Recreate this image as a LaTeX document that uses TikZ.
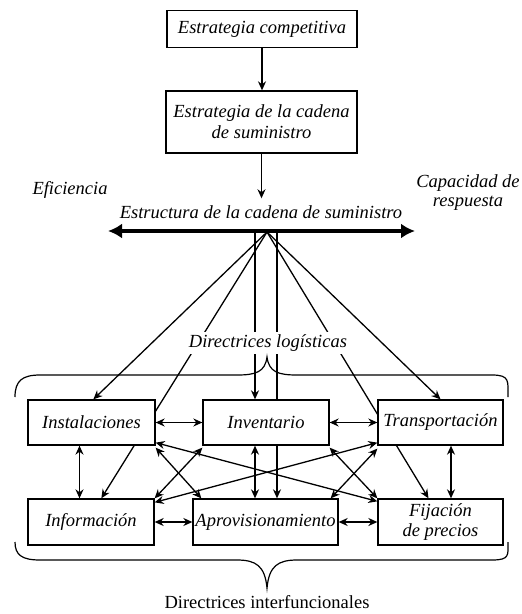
\documentclass[tikz,border=0pt]{standalone}
\usepackage{fontspec}
\setmainfont{Liberation Serif}
\usetikzlibrary{arrows.meta,calc}
\pgfdeclarelayer{bg}
\pgfsetlayers{bg,main}
\newcommand{\bigfs}{\fontsize{18.5}{21}\selectfont}
\begin{document}
\begin{tikzpicture}[x=1pt,y=-1pt,
  box/.style={draw,line width=1.3pt,fill=white,inner sep=0pt,align=center,font=\bigfs\itshape},
  lbl/.style={font=\bigfs\itshape,align=center,inner sep=1pt},
  arr/.style={line width=1.3pt,-{Stealth[length=9pt,width=8pt]}},
  darr/.style={line width=1.3pt,{Stealth[length=9pt,width=8pt]}-{Stealth[length=9pt,width=8pt]}},
  fan/.style={line width=1.3pt}
]
\useasboundingbox (0,0) rectangle (522,614);

% top boxes
\node[box,minimum width=190pt,minimum height=37pt] (comp) at (262,29) {Estrategia competitiva};
\node[box,minimum width=191pt,minimum height=62pt] (sc) at (261.5,122) {Estrategia de la cadena\\de suministro};
\node[lbl] (estr) at (261,212) {Estructura de la cadena de suministro};
\node[lbl] (efi) at (70,190) {Eficiencia};
\node[lbl,font=\fontsize{18.5}{19}\selectfont\itshape] (cap) at (468,193) {Capacidad de\\respuesta};

\coordinate (bL) at (108,231);
\coordinate (bR) at (415,231);
\coordinate (apex) at (267,232);
\coordinate (vL) at (255,231);
\coordinate (vR) at (277,231);

% function boxes
\node[box,minimum width=127pt,minimum height=45pt] (Inst) at (91.5,422.5) {Instalaciones};
\node[box,minimum width=126pt,minimum height=45pt] (Inv) at (266,422.5) {Inventario};
\node[box,minimum width=125pt,minimum height=45pt] (Trans) at (440.5,422.5) {Transportación};
\node[box,minimum width=126pt,minimum height=46pt] (Inf) at (91,522) {Información};
\node[box,minimum width=145pt,minimum height=46pt] (Aprov) at (265.5,522) {Aprovisionamiento};
\node[box,minimum width=125pt,minimum height=46pt,font=\fontsize{18.5}{20}\selectfont\itshape] (Fij) at (440.5,522) {Fijación\\de precios};

% arrows top
\draw[arr] (comp.south) -- (comp.south |- sc.north);
\draw[arr,shorten >=6pt] (sc.south) -- (sc.south |- estr.north);
\draw[line width=4.5pt,{Latex[length=14pt,width=15pt]}-{Latex[length=14pt,width=15pt]}] (bL) -- (bR);

% fan lines behind boxes
\begin{pgfonlayer}{bg}
\draw[arr] (apex) -- ($(Inst.north west)+(66,0)$);
\draw[arr] (apex) -- ($(Inf.north west)+(74,0)$);
\draw[arr] (vL) -- (vL |- Inv.north);
\draw[arr] (vR) -- (vR |- Aprov.north);
\draw[arr] (apex) -- (Trans.north);
\draw[arr] (apex) -- ($(Fij.north)+(-12,0)$);
\end{pgfonlayer}

\node[lbl,fill=white,inner sep=3pt] (dl) at (268,343) {Directrices logísticas};

% horizontal links
\draw[darr] (Inst.east) -- (Inv.west);
\draw[darr] (Inv.east) -- (Trans.west);
\draw[darr] (Inf.east) -- (Aprov.west);
\draw[darr] (Aprov.east) -- (Fij.west);

% vertical links
\coordinate (c1) at ($(Inst.south)+(-12,0)$);
\draw[darr] (c1) -- (c1 |- Inf.north);
\coordinate (c2) at ($(Trans.south)+(10.5,0)$);
\draw[darr] (c2) -- (c2 |- Fij.north);
\draw[darr] (vL |- Inv.south) -- (vL |- Aprov.north);

% diagonal links
\draw[darr] ($(Inst.south east)+(0,-3)$) -- ($(Fij.north west)+(0,3)$);
\draw[darr] ($(Trans.south west)+(0,-3)$) -- ($(Inf.north east)+(0,4)$);
\draw[darr] ($(Inst.south east)+(0,2)$) -- ($(Aprov.north west)+(9,0)$);
\draw[darr] ($(Inv.south west)+(0,2)$) -- (Inf.north east);
\draw[darr] ($(Inv.south east)+(0,2)$) -- (Fij.north west);
\draw[darr] ($(Trans.south west)+(0,3)$) -- ($(Aprov.north east)+(-8,0)$);

% braces
\draw[line width=1.2pt] (15,397) .. controls (15,381) and (22,375) .. (40,375) -- (237,375)
  .. controls (256,375) and (265,372) .. (267,357)
  .. controls (269,372) and (278,375) .. (297,375) -- (492,375)
  .. controls (510,375) and (508,381) .. (508,397);
\draw[line width=1.2pt] (15,542) .. controls (15,555) and (22,560) .. (40,560) -- (237,560)
  .. controls (256,560) and (265,566) .. (267,588)
  .. controls (269,566) and (278,560) .. (297,560) -- (492,560)
  .. controls (510,560) and (508,555) .. (508,542);

\node[font=\bigfs,inner sep=1pt] (di) at (267,602) {Directrices interfuncionales};
\end{tikzpicture}
\end{document}
